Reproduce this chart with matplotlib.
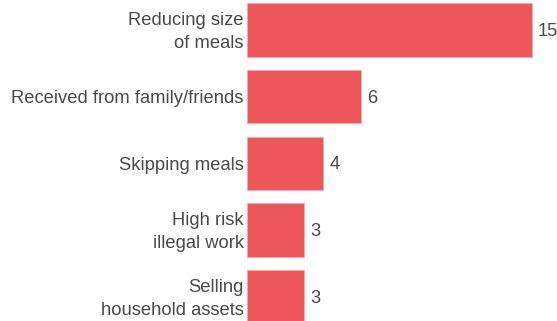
import matplotlib
matplotlib.use("Agg")
from matplotlib import pyplot as plt
from matplotlib import transforms

# Coping strategies and their counts
categories = [
    "Reducing size\nof meals",
    "Received from family/friends",
    "Skipping meals",
    "High risk\nillegal work",
    "Selling\nhousehold assets",
]
counts = [15, 6, 4, 3, 3]

bar_color = "#EE5759"
text_color = "#4a4a4a"

plt.rcParams["font.family"] = ["Liberation Sans", "DejaVu Sans"]

fig = plt.figure(figsize=(5.57, 3.21), dpi=100)
ax = fig.add_axes([247.3 / 557, 0, 1 - 247.3 / 557, 1])

pos = list(range(len(categories)))
ax.barh(pos, counts, height=0.8, color=bar_color,
        edgecolor="#f7a9aa", linewidth=0.6)

for p, c in zip(pos, counts):
    ax.annotate(str(c), (c, p), xytext=(4.5, -1.2), textcoords="offset points",
                va="center", ha="left", fontsize=13.2, color=text_color)

ax.set_xlim(0, (557 - 247.3) / 18.96)
ax.set_ylim(4.365, -0.45)
ax.set_yticks(pos)
ax.set_yticklabels(categories, fontsize=13.2, color=text_color,
                   linespacing=1.45, va="center")
ax.tick_params(axis="y", length=0, pad=2.5)
ax.set_xticks([])
for s in ax.spines.values():
    s.set_visible(False)

# nudge the category labels down a little so they sit on the bar centres
shift = transforms.ScaledTranslation(0, -0.02, fig.dpi_scale_trans)
for lab in ax.get_yticklabels():
    lab.set_transform(lab.get_transform() + shift)

fig.savefig("out.png", dpi=100)
